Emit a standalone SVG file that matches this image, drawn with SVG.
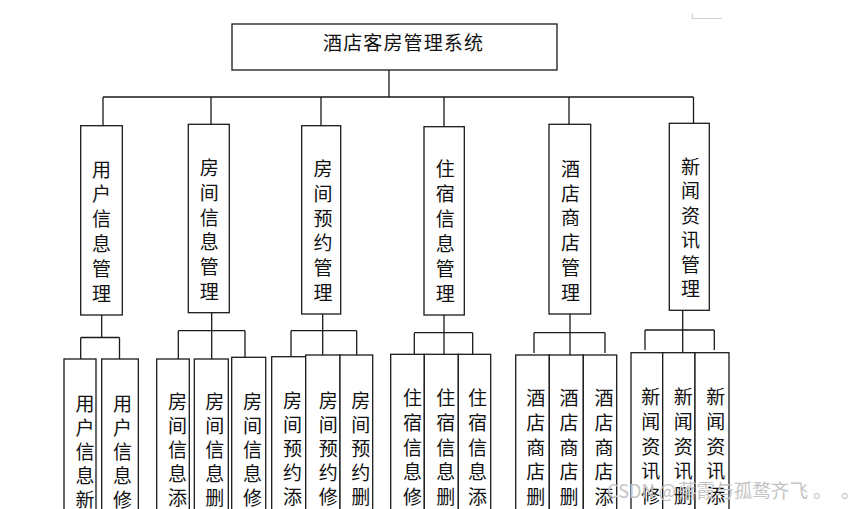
<svg xmlns="http://www.w3.org/2000/svg" width="860" height="509" viewBox="0 0 860 509">
<style>
.box{fill:#fff;stroke:#1a1a1a;stroke-width:1.3}
.ln{fill:none;stroke:#1a1a1a;stroke-width:1.3}
.t{font-family:"Noto Sans CJK SC","Noto Sans CJK JP",sans-serif;font-size:19px;fill:#111;text-anchor:middle}
.title{font-family:"Noto Sans CJK SC","Noto Sans CJK JP",sans-serif;font-size:19px;fill:#111;text-anchor:middle}
.wm{font-family:"Noto Sans CJK SC","Liberation Sans",sans-serif;font-size:19px;fill:#c4c4c4}
</style>
<rect width="860" height="509" fill="#fff"/>
<path d="M692.5 14 V18.5 H722" fill="none" stroke="#cfcfcf" stroke-width="1.2"/>
<g id="connectors">
<path class="ln" d="M389 70 V97 M103 97 H693.5 M103 97 V126 M211 97 V124.5 M321 97 V126 M444 97 V127 M569 97 V124.5 M693.5 97 V123.5"/>
<path class="ln" d="M101.7 315 V337.5 M80.7 337.5 H119.5 M80.7 337.5 V359 M119.5 337.5 V359"/>
<path class="ln" d="M211.7 312.7 V359 M178.3 330.7 H245 M178.3 330.7 V359 M245 330.7 V357.3"/>
<path class="ln" d="M322.7 314 V355 M291 330.7 H356.7 M291 330.7 V356.7 M356.7 330.7 V355"/>
<path class="ln" d="M444 315 V354.3 M414.3 332.7 H472.7 M414.3 332.7 V354.3 M472.7 332.7 V354.3"/>
<path class="ln" d="M570 314 V355 M534 332.7 H605 M534 332.7 V353 M605 332.7 V353"/>
<path class="ln" d="M682.7 310 V352.7 M645 330 H714.3 M645 330 V350 M714.3 330 V350"/>
</g>
<g id="root">
<rect class="box" x="232" y="24" width="325" height="46"/>
<text class="title" x="403" y="50" textLength="160">酒店客房管理系统</text>
</g>
<g id="n1"><rect class="box" x="80.7" y="125.7" width="41.6" height="189.3"/>
<text class="t"><tspan x="101.5" y="176.5">用</tspan><tspan x="101.5" y="201.3">户</tspan><tspan x="101.5" y="226.1">信</tspan><tspan x="101.5" y="250.9">息</tspan><tspan x="101.5" y="275.7">管</tspan><tspan x="101.5" y="300.5">理</tspan></text></g>
<g id="n2"><rect class="box" x="188.3" y="124.3" width="41" height="188.4"/>
<text class="t"><tspan x="209.3" y="175">房</tspan><tspan x="209.3" y="199.8">间</tspan><tspan x="209.3" y="224.6">信</tspan><tspan x="209.3" y="249.4">息</tspan><tspan x="209.3" y="274.2">管</tspan><tspan x="209.3" y="299">理</tspan></text></g>
<g id="n3"><rect class="box" x="301.7" y="125.7" width="39" height="188.3"/>
<text class="t"><tspan x="323" y="176">房</tspan><tspan x="323" y="200.8">间</tspan><tspan x="323" y="225.6">预</tspan><tspan x="323" y="250.4">约</tspan><tspan x="323" y="275.2">管</tspan><tspan x="323" y="300">理</tspan></text></g>
<g id="n4"><rect class="box" x="424" y="126.7" width="40.3" height="188.3"/>
<text class="t"><tspan x="445.3" y="176">住</tspan><tspan x="445.3" y="201">宿</tspan><tspan x="445.3" y="226">信</tspan><tspan x="445.3" y="251">息</tspan><tspan x="445.3" y="276">管</tspan><tspan x="445.3" y="301">理</tspan></text></g>
<g id="n5"><rect class="box" x="549" y="124.3" width="41.7" height="189.7"/>
<text class="t"><tspan x="570.5" y="176">酒</tspan><tspan x="570.5" y="200.7">店</tspan><tspan x="570.5" y="225.4">商</tspan><tspan x="570.5" y="250.1">店</tspan><tspan x="570.5" y="274.8">管</tspan><tspan x="570.5" y="299.5">理</tspan></text></g>
<g id="n6"><rect class="box" x="669.3" y="123.3" width="40" height="187"/>
<text class="t"><tspan x="690.5" y="173.7">新</tspan><tspan x="690.5" y="198.2">闻</tspan><tspan x="690.5" y="222.7">资</tspan><tspan x="690.5" y="247.2">讯</tspan><tspan x="690.5" y="271.7">管</tspan><tspan x="690.5" y="296.2">理</tspan></text></g>
<g id="c1a"><rect class="box" x="64" y="359" width="32" height="170"/>
<text class="t"><tspan x="85" y="411">用</tspan><tspan x="85" y="435">户</tspan><tspan x="85" y="459">信</tspan><tspan x="85" y="483">息</tspan><tspan x="85" y="507">新</tspan></text></g>
<g id="c1b"><rect class="box" x="101.7" y="359" width="36.6" height="170"/>
<text class="t"><tspan x="122.5" y="411">用</tspan><tspan x="122.5" y="435">户</tspan><tspan x="122.5" y="459">信</tspan><tspan x="122.5" y="483">息</tspan><tspan x="122.5" y="507">修</tspan></text></g>
<g id="c2a"><rect class="box" x="156.7" y="359" width="32.6" height="170"/>
<text class="t"><tspan x="177.5" y="408.5">房</tspan><tspan x="177.5" y="432.5">间</tspan><tspan x="177.5" y="456.5">信</tspan><tspan x="177.5" y="480.5">息</tspan><tspan x="177.5" y="504.5">添</tspan></text></g>
<g id="c2b"><rect class="box" x="194.3" y="359" width="34" height="170"/>
<text class="t"><tspan x="214.7" y="408.5">房</tspan><tspan x="214.7" y="432.5">间</tspan><tspan x="214.7" y="456.5">信</tspan><tspan x="214.7" y="480.5">息</tspan><tspan x="214.7" y="504.5">删</tspan></text></g>
<g id="c2c"><rect class="box" x="231.7" y="357.3" width="34" height="172"/>
<text class="t"><tspan x="252.5" y="408.5">房</tspan><tspan x="252.5" y="432.5">间</tspan><tspan x="252.5" y="456.5">信</tspan><tspan x="252.5" y="480.5">息</tspan><tspan x="252.5" y="504.5">修</tspan></text></g>
<g id="c3a"><rect class="box" x="271.7" y="356.7" width="34" height="172"/>
<text class="t"><tspan x="292.5" y="408">房</tspan><tspan x="292.5" y="432">间</tspan><tspan x="292.5" y="456">预</tspan><tspan x="292.5" y="480">约</tspan><tspan x="292.5" y="504">添</tspan></text></g>
<g id="c3b"><rect class="box" x="305.7" y="355" width="34.3" height="174"/>
<text class="t"><tspan x="328.3" y="408">房</tspan><tspan x="328.3" y="432">间</tspan><tspan x="328.3" y="456">预</tspan><tspan x="328.3" y="480">约</tspan><tspan x="328.3" y="504">修</tspan></text></g>
<g id="c3c"><rect class="box" x="340" y="355" width="32.7" height="174"/>
<text class="t"><tspan x="360.8" y="408">房</tspan><tspan x="360.8" y="432">间</tspan><tspan x="360.8" y="456">预</tspan><tspan x="360.8" y="480">约</tspan><tspan x="360.8" y="504">删</tspan></text></g>
<g id="c4a"><rect class="box" x="390.7" y="354.3" width="33.6" height="175"/>
<text class="t"><tspan x="412.5" y="405">住</tspan><tspan x="412.5" y="429.8">宿</tspan><tspan x="412.5" y="454.6">信</tspan><tspan x="412.5" y="479.4">息</tspan><tspan x="412.5" y="504.2">修</tspan></text></g>
<g id="c4b"><rect class="box" x="424.3" y="354.3" width="34" height="175"/>
<text class="t"><tspan x="445.8" y="405">住</tspan><tspan x="445.8" y="429.8">宿</tspan><tspan x="445.8" y="454.6">信</tspan><tspan x="445.8" y="479.4">息</tspan><tspan x="445.8" y="504.2">删</tspan></text></g>
<g id="c4c"><rect class="box" x="458.3" y="354.3" width="32.4" height="175"/>
<text class="t"><tspan x="477.5" y="405">住</tspan><tspan x="477.5" y="429.8">宿</tspan><tspan x="477.5" y="454.6">信</tspan><tspan x="477.5" y="479.4">息</tspan><tspan x="477.5" y="504.2">添</tspan></text></g>
<g id="c5a"><rect class="box" x="515.7" y="355" width="33.6" height="174"/>
<text class="t"><tspan x="535.8" y="405">酒</tspan><tspan x="535.8" y="429.8">店</tspan><tspan x="535.8" y="454.6">商</tspan><tspan x="535.8" y="479.4">店</tspan><tspan x="535.8" y="504.2">删</tspan></text></g>
<g id="c5b"><rect class="box" x="549.3" y="355" width="34" height="174"/>
<text class="t"><tspan x="569" y="405">酒</tspan><tspan x="569" y="429.8">店</tspan><tspan x="569" y="454.6">商</tspan><tspan x="569" y="479.4">店</tspan><tspan x="569" y="504.2">删</tspan></text></g>
<g id="c5c"><rect class="box" x="583.3" y="355" width="33.4" height="174"/>
<text class="t"><tspan x="604" y="405">酒</tspan><tspan x="604" y="429.8">店</tspan><tspan x="604" y="454.6">商</tspan><tspan x="604" y="479.4">店</tspan><tspan x="604" y="504.2">添</tspan></text></g>
<g id="c6a"><rect class="box" x="631" y="352.7" width="31.7" height="176"/>
<text class="t"><tspan x="650.8" y="404">新</tspan><tspan x="650.8" y="428.8">闻</tspan><tspan x="650.8" y="453.6">资</tspan><tspan x="650.8" y="478.4">讯</tspan><tspan x="650.8" y="503.2">修</tspan></text></g>
<g id="c6b"><rect class="box" x="662.7" y="352.7" width="32.3" height="176"/>
<text class="t"><tspan x="683.3" y="404">新</tspan><tspan x="683.3" y="428.8">闻</tspan><tspan x="683.3" y="453.6">资</tspan><tspan x="683.3" y="478.4">讯</tspan><tspan x="683.3" y="503.2">删</tspan></text></g>
<g id="c6c"><rect class="box" x="695" y="352.7" width="34" height="176"/>
<text class="t"><tspan x="715.8" y="404">新</tspan><tspan x="715.8" y="428.8">闻</tspan><tspan x="715.8" y="453.6">资</tspan><tspan x="715.8" y="478.4">讯</tspan><tspan x="715.8" y="503.2">添</tspan></text></g>
<text class="wm" y="498"><tspan x="607" textLength="69" lengthAdjust="spacingAndGlyphs">CSDN @</tspan><tspan x="678" textLength="130" lengthAdjust="spacingAndGlyphs">落霞与孤鹜齐飞</tspan><tspan x="813">。</tspan><tspan x="841">。</tspan></text>
</svg>
